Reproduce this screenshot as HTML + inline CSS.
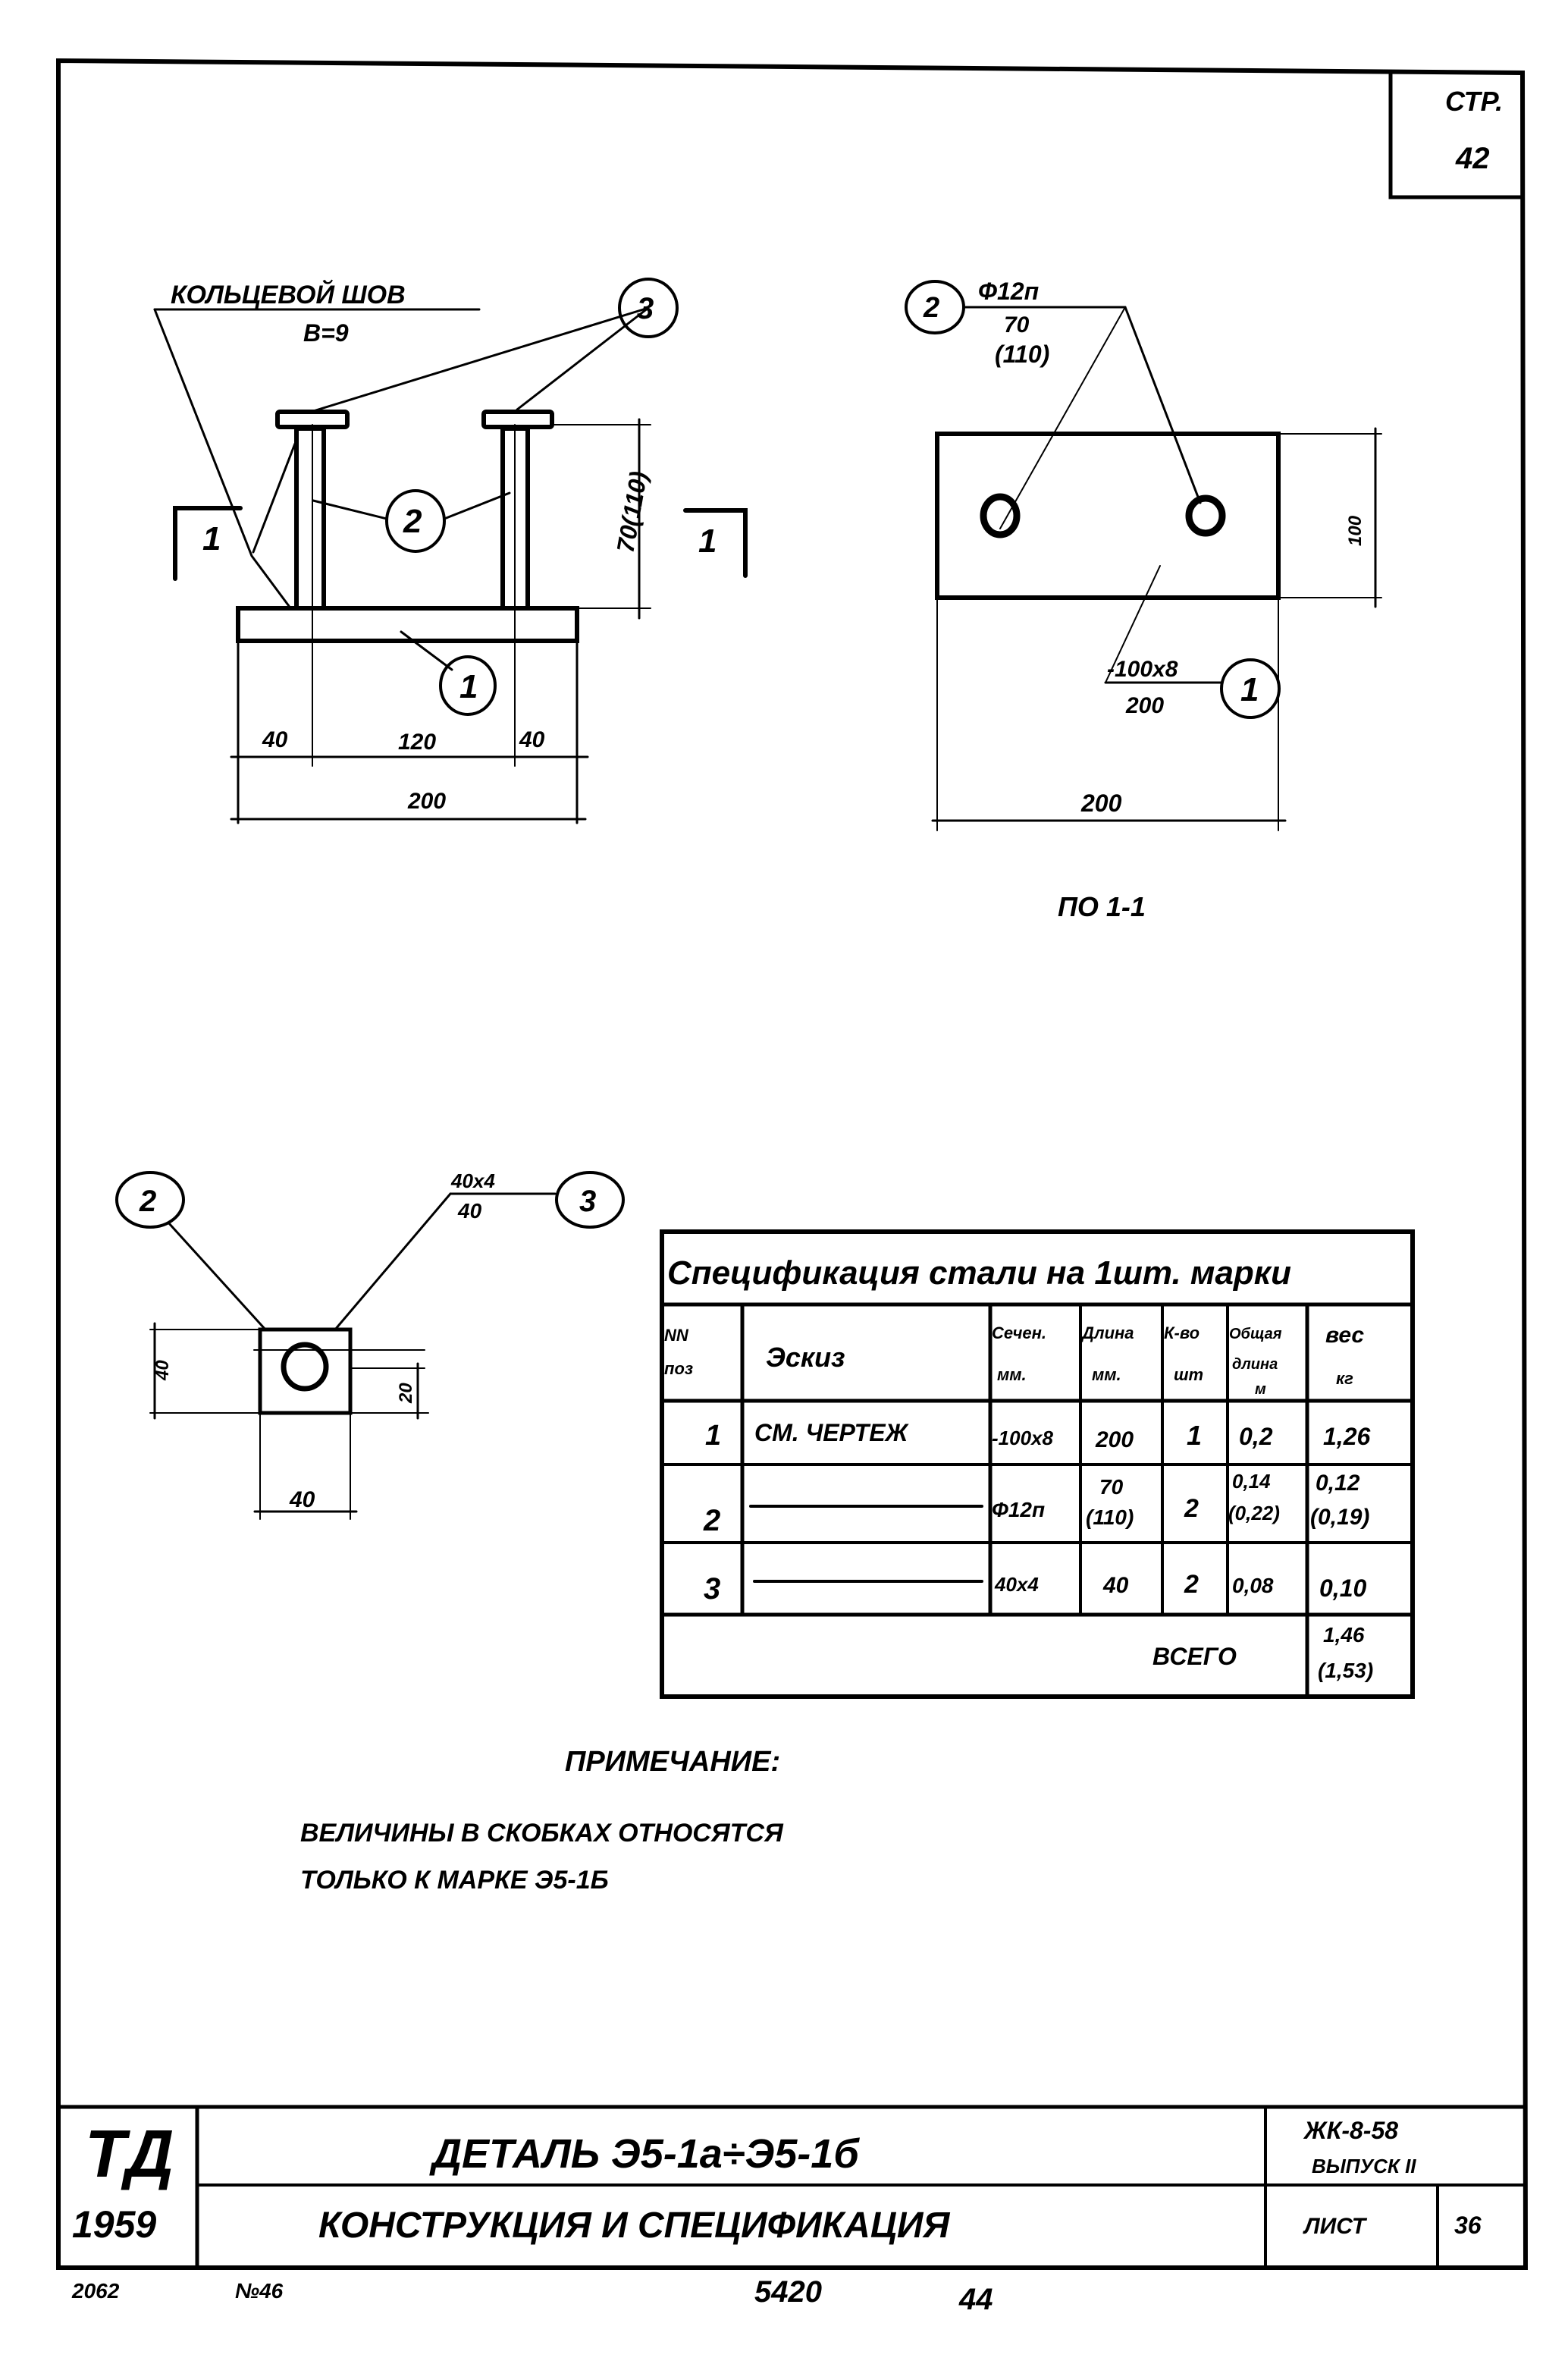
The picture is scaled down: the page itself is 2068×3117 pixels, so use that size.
<!DOCTYPE html>
<html><head><meta charset="utf-8"><style>
html,body{margin:0;padding:0;background:#fff}
svg{display:block}
text{font-family:"Liberation Sans","DejaVu Sans",sans-serif;font-style:italic;font-weight:bold;fill:#000}
</style></head><body>
<svg width="2068" height="3117" viewBox="0 0 2068 3117" xmlns="http://www.w3.org/2000/svg">
<g stroke="#000" fill="none" stroke-linecap="round">
<!-- frame -->
<path d="M77 80 L2008 96 L2012 2990 L77 2990 Z" stroke-width="6"/>
<path d="M1834 96 L1834 260 L2008 260" stroke-width="5"/>
<!-- title block -->
<line x1="77" y1="2778" x2="2010" y2="2778" stroke-width="5"/>
<line x1="260" y1="2881" x2="2010" y2="2881" stroke-width="4"/>
<line x1="260" y1="2778" x2="260" y2="2990" stroke-width="5"/>
<line x1="1669" y1="2778" x2="1669" y2="2990" stroke-width="4"/>
<line x1="1896" y1="2881" x2="1896" y2="2990" stroke-width="4"/>

<!-- LEFT ELEVATION -->
<rect x="314" y="802" width="447" height="43" stroke-width="6"/>
<line x1="314" y1="845" x2="314" y2="1085" stroke-width="3"/>
<line x1="761" y1="845" x2="761" y2="1085" stroke-width="3"/>
<line x1="412" y1="560" x2="412" y2="1010" stroke-width="2"/>
<line x1="679" y1="560" x2="679" y2="1010" stroke-width="2"/>
<!-- studs -->
<rect x="391" y="565" width="36" height="237" stroke-width="6"/>
<rect x="663" y="565" width="33" height="237" stroke-width="6"/>
<rect x="366" y="543" width="92" height="20" rx="3" stroke-width="6"/>
<rect x="638" y="543" width="90" height="20" rx="3" stroke-width="6"/>
<!-- dims -->
<line x1="305" y1="998" x2="775" y2="998" stroke-width="3"/>
<line x1="305" y1="1080" x2="772" y2="1080" stroke-width="3"/>
<line x1="728" y1="560" x2="858" y2="560" stroke-width="2"/>
<line x1="761" y1="802" x2="858" y2="802" stroke-width="2"/>
<line x1="843" y1="553" x2="843" y2="815" stroke-width="3"/>
<!-- leaders -->
<line x1="204" y1="408" x2="632" y2="408" stroke-width="3"/>
<polyline points="204,408 332,733 381,799" stroke-width="3"/>
<line x1="334" y1="728" x2="389" y2="585" stroke-width="3"/>
<line x1="855" y1="406" x2="410" y2="543" stroke-width="3"/>
<line x1="855" y1="406" x2="682" y2="540" stroke-width="3"/>
<line x1="510" y1="684" x2="413" y2="660" stroke-width="3"/>
<line x1="586" y1="684" x2="672" y2="650" stroke-width="3"/>
<line x1="596" y1="883" x2="529" y2="833" stroke-width="3"/>
<circle cx="855" cy="406" r="38" stroke-width="4"/>
<ellipse cx="548" cy="687" rx="38" ry="40" stroke-width="4"/>
<ellipse cx="617" cy="904" rx="36" ry="38" stroke-width="4"/>
<!-- section marks -->
<polyline points="317,670 231,670 231,763" stroke-width="6"/>
<polyline points="904,673 983,673 983,759" stroke-width="6"/>

<!-- RIGHT PLAN -->
<rect x="1236" y="572" width="450" height="216" stroke-width="6"/>
<ellipse cx="1319" cy="680" rx="22" ry="25" stroke-width="9"/>
<ellipse cx="1590" cy="680" rx="22" ry="23" stroke-width="9"/>
<line x1="1686" y1="572" x2="1822" y2="572" stroke-width="2"/>
<line x1="1686" y1="788" x2="1822" y2="788" stroke-width="2"/>
<line x1="1814" y1="565" x2="1814" y2="800" stroke-width="3"/>
<line x1="1236" y1="788" x2="1236" y2="1095" stroke-width="2"/>
<line x1="1686" y1="788" x2="1686" y2="1095" stroke-width="2"/>
<line x1="1230" y1="1082" x2="1695" y2="1082" stroke-width="3"/>
<line x1="1273" y1="405" x2="1484" y2="405" stroke-width="3"/>
<line x1="1484" y1="405" x2="1319" y2="697" stroke-width="2"/>
<line x1="1484" y1="405" x2="1583" y2="663" stroke-width="3"/>
<ellipse cx="1233" cy="405" rx="38" ry="34" stroke-width="4"/>
<line x1="1458" y1="900" x2="1612" y2="900" stroke-width="3"/>
<line x1="1458" y1="900" x2="1530" y2="746" stroke-width="2"/>
<ellipse cx="1649" cy="908" rx="38" ry="38" stroke-width="4"/>

<!-- BOTTOM LEFT DETAIL -->
<rect x="343" y="1753" width="119" height="110" stroke-width="5"/>
<ellipse cx="402" cy="1802" rx="28" ry="29" stroke-width="7"/>
<line x1="198" y1="1753" x2="343" y2="1753" stroke-width="2"/>
<line x1="198" y1="1863" x2="343" y2="1863" stroke-width="2"/>
<line x1="204" y1="1745" x2="204" y2="1870" stroke-width="3"/>
<line x1="462" y1="1804" x2="560" y2="1804" stroke-width="2"/>
<line x1="462" y1="1863" x2="565" y2="1863" stroke-width="2"/>
<line x1="551" y1="1798" x2="551" y2="1870" stroke-width="3"/>
<line x1="343" y1="1863" x2="343" y2="2003" stroke-width="2"/>
<line x1="462" y1="1863" x2="462" y2="2003" stroke-width="2"/>
<line x1="336" y1="1993" x2="470" y2="1993" stroke-width="3"/>
<line x1="335" y1="1780" x2="560" y2="1780" stroke-width="2"/>
<line x1="222" y1="1612" x2="350" y2="1753" stroke-width="3"/>
<line x1="442" y1="1753" x2="594" y2="1574" stroke-width="3"/>
<line x1="594" y1="1574" x2="732" y2="1574" stroke-width="3"/>
<ellipse cx="198" cy="1582" rx="44" ry="36" stroke-width="4"/>
<ellipse cx="778" cy="1582" rx="44" ry="36" stroke-width="4"/>

<!-- TABLE -->
<rect x="873" y="1624" width="990" height="613" stroke-width="6"/>
<line x1="873" y1="1720" x2="1863" y2="1720" stroke-width="5"/>
<line x1="873" y1="1847" x2="1863" y2="1847" stroke-width="5"/>
<line x1="873" y1="1931" x2="1863" y2="1931" stroke-width="4"/>
<line x1="873" y1="2034" x2="1863" y2="2034" stroke-width="4"/>
<line x1="873" y1="2129" x2="1863" y2="2129" stroke-width="5"/>
<line x1="979" y1="1720" x2="979" y2="2129" stroke-width="5"/>
<line x1="1306" y1="1720" x2="1306" y2="2129" stroke-width="5"/>
<line x1="1425" y1="1720" x2="1425" y2="2129" stroke-width="4"/>
<line x1="1533" y1="1720" x2="1533" y2="2129" stroke-width="4"/>
<line x1="1619" y1="1720" x2="1619" y2="2129" stroke-width="4"/>
<line x1="1724" y1="1720" x2="1724" y2="2237" stroke-width="5"/>
<line x1="990" y1="1986" x2="1295" y2="1986" stroke-width="4"/>
<line x1="995" y1="2085" x2="1295" y2="2085" stroke-width="4"/>
</g>

<!-- TEXTS -->
<text x="1906" y="146" font-size="36" font-weight="normal">СТР.</text>
<text x="1920" y="222" font-size="40" font-weight="normal">42</text>

<text x="225" y="400" font-size="34">КОЛЬЦЕВОЙ ШОВ</text>
<text x="400" y="450" font-size="32">В=9</text>
<text x="840" y="420" font-size="40" font-weight="normal" font-style="normal">3</text>
<text x="532" y="702" font-size="44" font-weight="normal">2</text>
<text x="606" y="920" font-size="44" font-weight="normal">1</text>
<text x="267" y="725" font-size="44" font-weight="normal">1</text>
<text x="921" y="728" font-size="44" font-weight="normal">1</text>
<text x="346" y="985" font-size="30">40</text>
<text x="525" y="988" font-size="30">120</text>
<text x="685" y="985" font-size="30">40</text>
<text x="538" y="1066" font-size="30">200</text>
<text transform="translate(835,730) rotate(-80)" font-size="32" font-weight="normal">70(110)</text>

<text x="1218" y="418" font-size="38" font-weight="normal">2</text>
<text x="1290" y="395" font-size="32" font-weight="normal">Ф12п</text>
<text x="1324" y="438" font-size="30" font-weight="normal">70</text>
<text x="1312" y="478" font-size="32" font-weight="normal">(110)</text>
<text transform="translate(1795,720) rotate(-90)" font-size="24">100</text>
<text x="1460" y="892" font-size="30">-100х8</text>
<text x="1485" y="940" font-size="30">200</text>
<text x="1636" y="924" font-size="44" font-weight="normal">1</text>
<text x="1426" y="1070" font-size="32">200</text>
<text x="1395" y="1208" font-size="36">ПО 1-1</text>

<text x="184" y="1597" font-size="40" font-weight="normal">2</text>
<text x="764" y="1597" font-size="40" font-weight="normal">3</text>
<text x="595" y="1566" font-size="26" font-weight="normal">40х4</text>
<text x="604" y="1606" font-size="28" font-weight="normal">40</text>
<text transform="translate(222,1820) rotate(-90)" font-size="24">40</text>
<text transform="translate(543,1850) rotate(-90)" font-size="24">20</text>
<text x="382" y="1987" font-size="30">40</text>

<text x="880" y="1693" font-size="44" font-weight="normal">Спецификация стали на 1шт. марки</text>
<text x="876" y="1768" font-size="22">NN</text>
<text x="876" y="1812" font-size="22">поз</text>
<text x="1010" y="1802" font-size="36" font-weight="normal">Эскиз</text>
<text x="1308" y="1765" font-size="22" font-weight="normal">Сечен.</text>
<text x="1315" y="1820" font-size="22">мм.</text>
<text x="1427" y="1765" font-size="22" font-weight="normal">Длина</text>
<text x="1440" y="1820" font-size="22">мм.</text>
<text x="1535" y="1765" font-size="22" font-weight="normal">К-во</text>
<text x="1548" y="1820" font-size="22">шт</text>
<text x="1621" y="1765" font-size="20" font-weight="normal">Общая</text>
<text x="1625" y="1805" font-size="20">длина</text>
<text x="1655" y="1838" font-size="20">м</text>
<text x="1748" y="1770" font-size="30" font-weight="normal">вес</text>
<text x="1762" y="1825" font-size="22">кг</text>

<text x="930" y="1905" font-size="38" font-weight="normal">1</text>
<text x="995" y="1900" font-size="32">СМ. ЧЕРТЕЖ</text>
<text x="1308" y="1905" font-size="26">-100х8</text>
<text x="1445" y="1908" font-size="30">200</text>
<text x="1565" y="1905" font-size="36" font-weight="normal">1</text>
<text x="1634" y="1905" font-size="32" font-weight="normal">0,2</text>
<text x="1745" y="1905" font-size="32" font-weight="normal">1,26</text>

<text x="928" y="2018" font-size="40" font-weight="normal">2</text>
<text x="1308" y="2000" font-size="28" font-weight="normal">Ф12п</text>
<text x="1450" y="1970" font-size="28">70</text>
<text x="1432" y="2010" font-size="28" font-weight="normal">(110)</text>
<text x="1562" y="2000" font-size="34" font-weight="normal">2</text>
<text x="1625" y="1962" font-size="26" font-weight="normal">0,14</text>
<text x="1620" y="2004" font-size="26" font-weight="normal">(0,22)</text>
<text x="1735" y="1965" font-size="30" font-weight="normal">0,12</text>
<text x="1728" y="2010" font-size="30" font-weight="normal">(0,19)</text>

<text x="928" y="2108" font-size="40" font-weight="normal">3</text>
<text x="1312" y="2098" font-size="26">40х4</text>
<text x="1455" y="2100" font-size="30">40</text>
<text x="1562" y="2100" font-size="34" font-weight="normal">2</text>
<text x="1625" y="2100" font-size="28">0,08</text>
<text x="1740" y="2105" font-size="32" font-weight="normal">0,10</text>

<text x="1520" y="2195" font-size="32">ВСЕГО</text>
<text x="1745" y="2165" font-size="28" font-weight="normal">1,46</text>
<text x="1738" y="2212" font-size="28" font-weight="normal">(1,53)</text>

<text x="745" y="2335" font-size="38" font-weight="normal">ПРИМЕЧАНИЕ:</text>
<text x="396" y="2428" font-size="34">ВЕЛИЧИНЫ В СКОБКАХ ОТНОСЯТСЯ</text>
<text x="396" y="2490" font-size="34">ТОЛЬКО К МАРКЕ Э5-1Б</text>

<text x="112" y="2870" font-size="88" font-style="normal" font-weight="normal" font-family="Liberation Serif">ТД</text>
<text x="95" y="2950" font-size="50" font-style="normal" font-weight="normal">1959</text>
<text x="570" y="2858" font-size="54" font-weight="normal">ДЕТАЛЬ Э5-1а÷Э5-1б</text>
<text x="420" y="2950" font-size="48" font-weight="normal">КОНСТРУКЦИЯ И СПЕЦИФИКАЦИЯ</text>
<text x="1720" y="2820" font-size="32" font-weight="normal">ЖК-8-58</text>
<text x="1730" y="2865" font-size="26">ВЫПУСК II</text>
<text x="1720" y="2945" font-size="30">ЛИСТ</text>
<text x="1918" y="2945" font-size="32">36</text>

<text x="95" y="3030" font-size="28">2062</text>
<text x="310" y="3030" font-size="28">№46</text>
<text x="995" y="3035" font-size="40" font-weight="normal">5420</text>
<text x="1265" y="3045" font-size="40">44</text>
</svg>
</body></html>
